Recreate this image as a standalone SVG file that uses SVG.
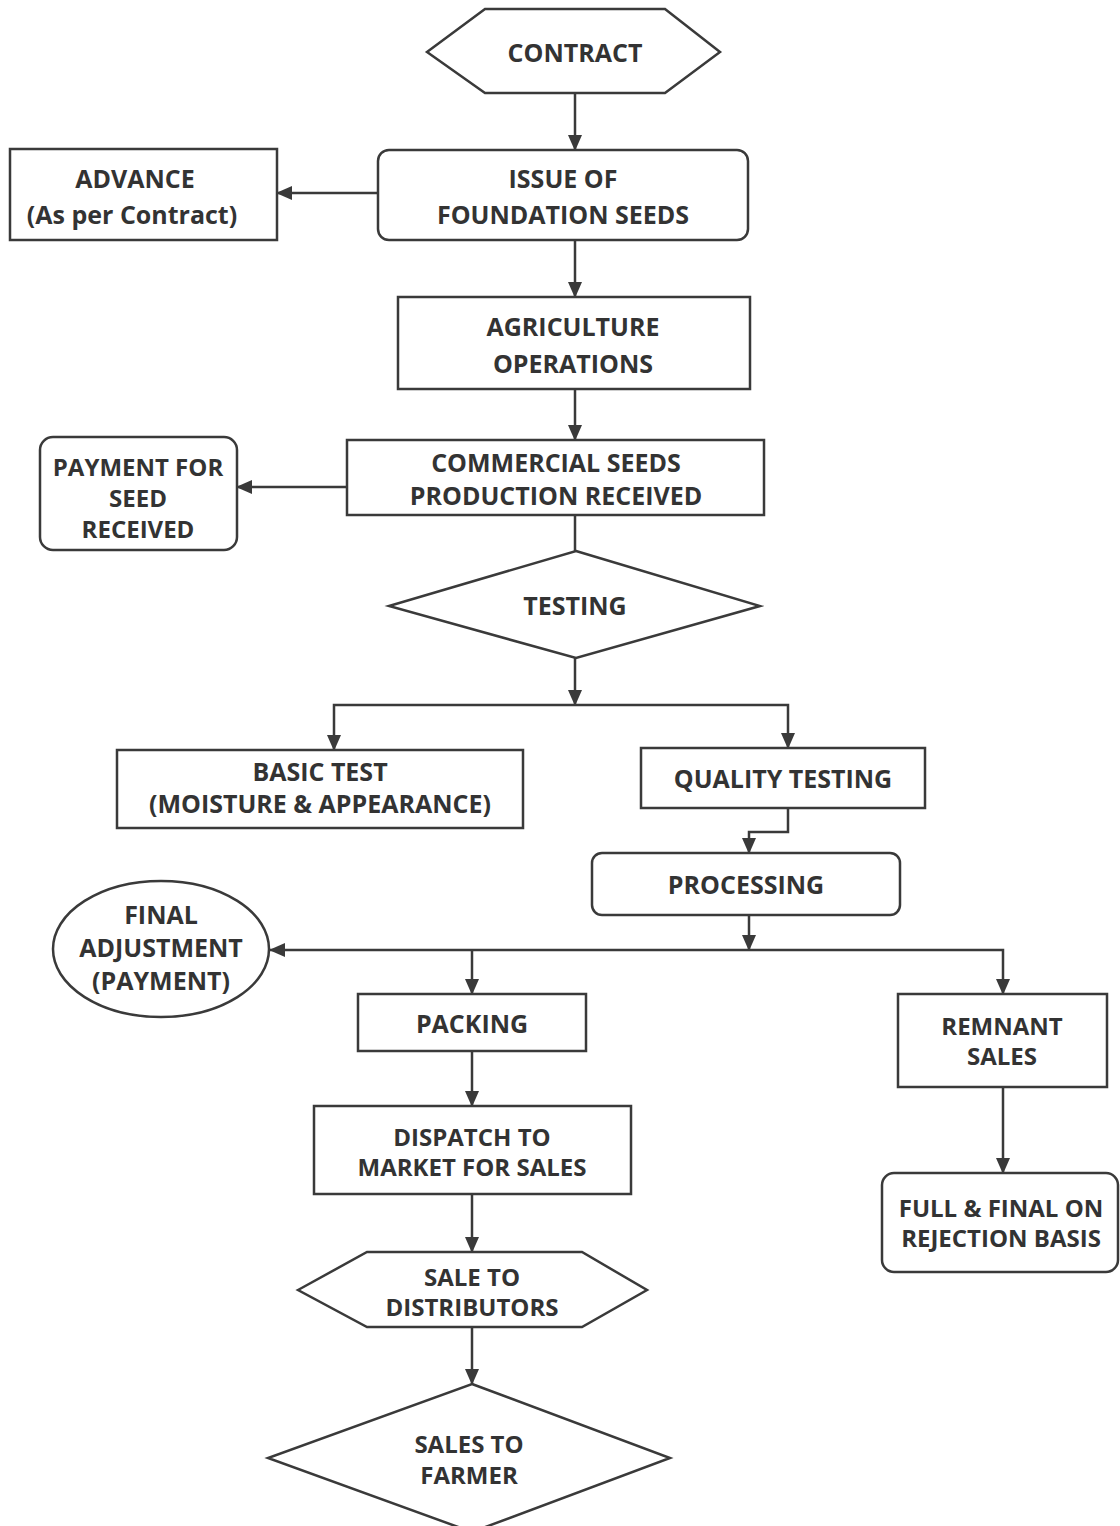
<svg xmlns="http://www.w3.org/2000/svg" width="1120" height="1526" viewBox="0 0 1120 1526">
<defs>
<marker id="arr" markerUnits="userSpaceOnUse" markerWidth="16" markerHeight="14" refX="15" refY="7" orient="auto">
<path d="M0,0 L16,7 L0,14 Z" fill="#3a3a3a"/>
</marker>
<style>
.s{fill:#fff;stroke:#3a3a3a;stroke-width:2.5}
.c{fill:none;stroke:#3a3a3a;stroke-width:2.5}
.a{marker-end:url(#arr)}
text{font-family:"Open Sans","Noto Sans","Liberation Sans",sans-serif;font-weight:700;font-size:25px;fill:#333;text-anchor:middle;dominant-baseline:central}
.t{font-size:24px}
</style>
</defs>
<rect width="1120" height="1526" fill="#fff"/>
<g id="connectors">
<path class="c a" d="M575,93 V150"/>
<path class="c a" d="M378,193 H277"/>
<path class="c a" d="M575,240 V297"/>
<path class="c a" d="M575,389 V440"/>
<path class="c a" d="M347,487 H237"/>
<path class="c" d="M575,515 V551"/>
<path class="c a" d="M575,658 V705"/>
<path class="c a" d="M575,705 H334 V750"/>
<path class="c a" d="M575,705 H788 V748"/>
<path class="c a" d="M788,808 V832 H749 V853"/>
<path class="c a" d="M749,915 V950"/>
<path class="c a" d="M749,950 H270"/>
<path class="c a" d="M749,950 H1003 V994"/>
<path class="c a" d="M472,950 V994"/>
<path class="c a" d="M472,1051 V1106"/>
<path class="c a" d="M472,1194 V1252"/>
<path class="c a" d="M472,1327 V1384"/>
<path class="c a" d="M1003,1087 V1173"/>
</g>
<g id="contract">
<polygon class="s" points="427,52 485,9 665,9 720,52 665,93 485,93"/>
<text x="575" y="52">CONTRACT</text>
</g>
<g id="issue">
<rect class="s" x="378" y="150" width="370" height="90" rx="11"/>
<text x="563" y="178">ISSUE OF</text>
<text x="563" y="214">FOUNDATION SEEDS</text>
</g>
<g id="advance">
<rect class="s" x="10" y="149" width="267" height="91"/>
<text x="135" y="178">ADVANCE</text>
<text x="132" y="214">(As per Contract)</text>
</g>
<g id="agriculture">
<rect class="s" x="398" y="297" width="352" height="92"/>
<text x="573" y="326">AGRICULTURE</text>
<text x="573" y="363">OPERATIONS</text>
</g>
<g id="commercial">
<rect class="s" x="347" y="440" width="417" height="75"/>
<text x="556" y="462">COMMERCIAL SEEDS</text>
<text x="556" y="495">PRODUCTION RECEIVED</text>
</g>
<g id="payment">
<rect class="s" x="40" y="437" width="197" height="113" rx="13"/>
<text class="t" x="138" y="466">PAYMENT FOR</text>
<text class="t" x="138" y="497">SEED</text>
<text class="t" x="138" y="528">RECEIVED</text>
</g>
<g id="testing">
<polygon class="s" points="576,551 760,606 576,658 389,606"/>
<text x="575" y="605">TESTING</text>
</g>
<g id="basic">
<rect class="s" x="117" y="750" width="406" height="78"/>
<text x="320" y="771">BASIC TEST</text>
<text x="320" y="803">(MOISTURE &amp; APPEARANCE)</text>
</g>
<g id="quality">
<rect class="s" x="641" y="748" width="284" height="60"/>
<text x="783" y="778">QUALITY TESTING</text>
</g>
<g id="processing">
<rect class="s" x="592" y="853" width="308" height="62" rx="10"/>
<text x="746" y="884">PROCESSING</text>
</g>
<g id="final">
<ellipse class="s" cx="161" cy="949" rx="108" ry="68"/>
<text x="161" y="914">FINAL</text>
<text x="161" y="947">ADJUSTMENT</text>
<text x="161" y="980">(PAYMENT)</text>
</g>
<g id="packing">
<rect class="s" x="358" y="994" width="228" height="57"/>
<text x="472" y="1023">PACKING</text>
</g>
<g id="remnant">
<rect class="s" x="898" y="994" width="209" height="93"/>
<text class="t" x="1002" y="1025">REMNANT</text>
<text class="t" x="1002" y="1055">SALES</text>
</g>
<g id="dispatch">
<rect class="s" x="314" y="1106" width="317" height="88"/>
<text class="t" x="472" y="1136">DISPATCH TO</text>
<text class="t" x="472" y="1166">MARKET FOR SALES</text>
</g>
<g id="full">
<rect class="s" x="882" y="1173" width="236" height="99" rx="12"/>
<text class="t" x="1001" y="1207">FULL &amp; FINAL ON</text>
<text class="t" x="1001" y="1237">REJECTION BASIS</text>
</g>
<g id="sale-distributors">
<polygon class="s" points="298,1290 367,1252 582,1252 647,1290 582,1327 367,1327"/>
<text class="t" x="472" y="1276">SALE TO</text>
<text class="t" x="472" y="1306">DISTRIBUTORS</text>
</g>
<g id="sales-farmer">
<polygon class="s" points="472,1384 670,1458 472,1532 268,1458"/>
<text class="t" x="469" y="1443">SALES TO</text>
<text class="t" x="469" y="1474">FARMER</text>
</g>
</svg>
